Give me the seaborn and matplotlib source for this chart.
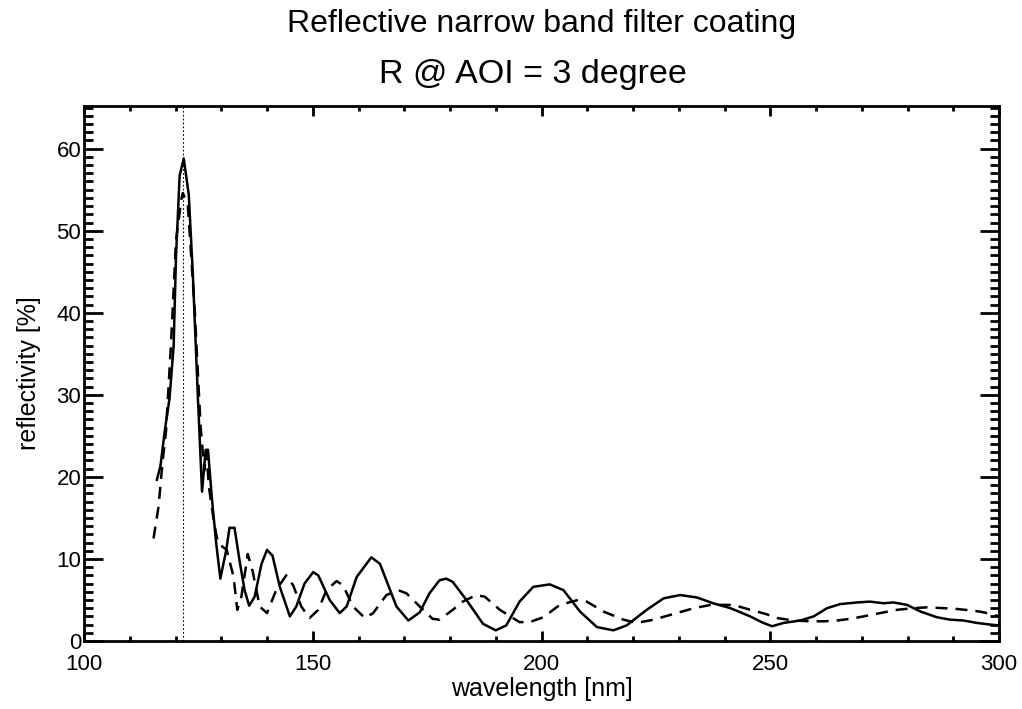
import numpy as np
import pandas as pd
import matplotlib
matplotlib.use("Agg")
import matplotlib.pyplot as plt
import seaborn as sns
from matplotlib.ticker import MultipleLocator

# ---- data ----
wl_solid = [115.9, 116.7, 117.7, 118.7, 119.6, 120.1, 120.9, 121.8, 122.9, 123.8, 124.9,
            125.8, 126.6, 127.1, 128.0, 128.9, 129.8, 131.1, 131.8, 132.9, 134.0, 135.1,
            136.1, 137.3, 138.8, 140.0, 141.2, 142.8, 145.0, 146.4, 148.2, 150.1, 151.2,
            153.7, 155.9, 157.4, 159.6, 162.8, 164.7, 168.3, 170.9, 173.4, 175.5, 177.7,
            179.2, 180.6, 183.6, 187.2, 190.0, 192.3, 195.2, 198.2, 201.8, 204.8, 208.4,
            212.1, 215.7, 218.6, 223.0, 226.7, 230.3, 234.0, 237.5, 241.3, 245.6, 248.5,
            250.4, 252.9, 256.6, 259.5, 262.4, 265.3, 269.0, 271.8, 274.8, 276.9, 279.9,
            282.8, 286.4, 289.3, 292.2, 295.2, 298.1, 300.0]
r_solid = [19.6, 21.3, 25.8, 29.6, 36.0, 46.7, 56.7, 58.8, 54.4, 44.6, 29.6,
           18.2, 23.3, 23.3, 17.1, 11.9, 7.6, 11.1, 13.8, 13.8, 9.8, 6.2,
           4.3, 5.4, 9.4, 11.1, 10.4, 6.6, 3.0, 4.2, 7.0, 8.4, 8.0,
           5.0, 3.4, 4.2, 7.8, 10.2, 9.4, 4.2, 2.5, 3.5, 5.8, 7.4,
           7.6, 7.2, 5.0, 2.1, 1.3, 1.9, 4.8, 6.6, 6.9, 6.2, 3.6,
           1.7, 1.3, 1.9, 3.8, 5.2, 5.6, 5.3, 4.6, 4.0, 3.0, 2.2,
           1.8, 2.2, 2.5, 3.0, 4.0, 4.5, 4.7, 4.8, 4.6, 4.7, 4.4,
           3.6, 2.9, 2.6, 2.5, 2.2, 2.0, 1.9]

wl_dash = [115.2, 116.3, 117.2, 117.9, 119.0, 120.1, 121.3, 121.6, 122.7, 124.2, 125.5,
           126.3, 126.7, 127.4, 128.4, 129.3, 131.2, 132.7, 133.5, 134.4, 135.8, 136.9,
           138.4, 140.0, 142.0, 144.2, 145.7, 147.5, 149.3, 151.2, 153.0, 155.2, 156.6,
           158.8, 161.4, 163.2, 166.1, 168.7, 170.5, 173.4, 176.2, 177.7, 180.6, 182.8,
           185.7, 187.6, 190.9, 195.2, 197.4, 200.4, 204.0, 208.0, 209.9, 213.5, 217.9,
           220.8, 224.5, 228.9, 233.3, 237.0, 242.0, 245.0, 249.0, 251.5, 255.0, 258.7,
           261.7, 264.6, 267.5, 270.4, 274.0, 277.7, 281.3, 284.2, 287.9, 290.8, 294.4,
           296.6, 298.8, 300.0]
r_dash = [12.5, 16.4, 22.0, 25.4, 36.0, 48.8, 53.9, 54.6, 53.1, 40.3, 26.0,
          20.8, 23.0, 18.4, 14.5, 11.9, 11.1, 7.8, 3.8, 5.4, 10.6, 8.4,
          4.2, 3.4, 6.2, 8.0, 6.8, 4.2, 2.8, 3.8, 6.2, 7.3, 6.8,
          4.2, 2.8, 3.4, 5.6, 6.2, 5.8, 4.2, 2.7, 2.6, 3.8, 4.8,
          5.6, 5.4, 3.8, 2.3, 2.3, 2.9, 4.4, 5.0, 4.8, 3.6, 2.6,
          2.2, 2.6, 3.3, 4.0, 4.4, 4.4, 3.9, 3.3, 2.8, 2.5, 2.4,
          2.4, 2.5, 2.7, 3.0, 3.4, 3.8, 4.0, 4.1, 4.0, 3.9, 3.7,
          3.5, 3.2, 3.0]

lyman_alpha = 121.6

title1 = "Reflective narrow band filter coating"
title2 = "R @ AOI = 3 degree"
xlabel = "wavelength [nm]"
ylabel = "reflectivity [%]"

# ---- plotting ----
sns.set_style("white")
plt.rcParams['font.family'] = ['Liberation Sans', 'DejaVu Sans']
plt.rcParams['text.color'] = 'black'
plt.rcParams['axes.labelcolor'] = 'black'
plt.rcParams['xtick.color'] = 'black'
plt.rcParams['ytick.color'] = 'black'

W, H = 1022, 709
fig = plt.figure(figsize=(W / 100, H / 100), dpi=100)
L, R, T, B = 84, 999, 106, 641
ax = fig.add_axes([L / W, 1 - B / H, (R - L) / W, (B - T) / H])

df_s = pd.DataFrame({"wl": wl_solid, "R": r_solid})
df_d = pd.DataFrame({"wl": wl_dash, "R": r_dash})

sns.lineplot(data=df_s, x="wl", y="R", ax=ax, color="black", lw=1.8,
             estimator=None, sort=False)
sns.lineplot(data=df_d, x="wl", y="R", ax=ax, color="black", lw=1.8,
             estimator=None, sort=False, linestyle=(0, (4.8, 3.2)))
ax.axvline(lyman_alpha, color="black", lw=0.8, linestyle=(0, (1.5, 2)))

ax.set_xlim(100, 300)
ax.set_ylim(0, 65.2)
ax.xaxis.set_major_locator(MultipleLocator(50))
ax.xaxis.set_minor_locator(MultipleLocator(10))
ax.yaxis.set_major_locator(MultipleLocator(10))
ax.yaxis.set_minor_locator(MultipleLocator(1))

for s in ax.spines.values():
    s.set_visible(True)
    s.set_linewidth(2.0)
    s.set_color("black")

ax.tick_params(axis="x", which="major", direction="in", length=7.5, width=2,
               top=True, bottom=True, labelsize=16, pad=9, color="black",
               labelcolor="black")
ax.tick_params(axis="x", which="minor", direction="in", length=3.8, width=2,
               top=True, bottom=True, color="black")
ax.tick_params(axis="y", which="major", direction="in", length=13.5, width=2,
               left=True, right=True, labelsize=16, pad=2, color="black",
               labelcolor="black")
ax.tick_params(axis="y", which="minor", direction="in", length=6.5, width=2,
               left=True, right=True, color="black")

ax.set_xlabel(xlabel, fontsize=18, labelpad=2, color="black")
ax.set_ylabel(ylabel, fontsize=18, labelpad=11, color="black")

fig.text(0.5 * (L + R) / W, 1 - 24 / H, title1, ha="center", va="center",
         fontsize=23, color="black")
fig.text(533 / W, 1 - 75 / H, title2, ha="center", va="center",
         fontsize=24.5, color="black")

fig.savefig("out.png", dpi=100)
